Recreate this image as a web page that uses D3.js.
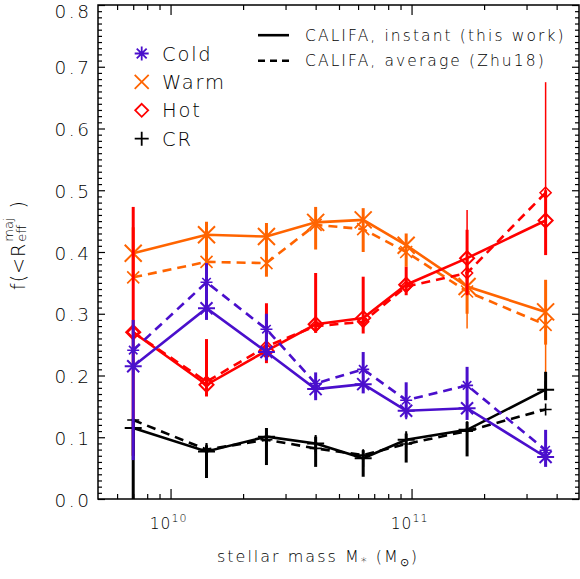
<!DOCTYPE html>
<html>
<head>
<meta charset="utf-8">
<script src="https://cdn.jsdelivr.net/npm/d3@7"></script>
<style>
  body { margin: 0; background: #fff; }
  text { font-family: "DejaVu Sans", sans-serif; font-weight: 200; fill: #000; }
</style>
</head>
<body>
<div id="chart"></div>
<script>
const FRAME_WIDTH = 580;
const FRAME_HEIGHT = 579;
const BOX = { left: 98, right: 579, top: 5, bottom: 499 };

// stellar mass bins (M_sun)
const masses = [7.0e9, 1.41e10, 2.5e10, 4.0e10, 6.3e10, 9.5e10, 1.7e11, 3.6e11];

// instant (this work) -- solid
const coldInst = [0.215, 0.309, 0.238, 0.178, 0.186, 0.143, 0.147, 0.068];
const coldLo   = [0.063, 0.290, 0.225, 0.160, 0.171, 0.132, 0.128, 0.052];
const coldHi   = [0.290, 0.382, 0.300, 0.205, 0.238, 0.189, 0.214, 0.112];
const warmInst = [0.398, 0.428, 0.425, 0.448, 0.452, 0.411, 0.344, 0.303];
const warmLo   = [0.360, 0.382, 0.360, 0.404, 0.400, 0.376, 0.300, 0.250];
const warmHi   = [0.440, 0.449, 0.447, 0.473, 0.471, 0.430, 0.390, 0.355];
const hotInst  = [0.270, 0.185, 0.240, 0.283, 0.293, 0.347, 0.390, 0.451];
const hotLo    = [0.070, 0.166, 0.220, 0.269, 0.268, 0.330, 0.330, 0.395];
const hotHi    = [0.473, 0.259, 0.317, 0.366, 0.360, 0.376, 0.436, 0.500];
const crInst   = [0.115, 0.077, 0.101, 0.090, 0.066, 0.096, 0.112, 0.177];
const crLo     = [-0.10, 0.034, 0.055, 0.052, 0.036, 0.059, 0.069, 0.160];
const crHi     = [0.130, 0.087, 0.115, 0.101, 0.079, 0.106, 0.125, 0.206];

// average (Zhu18) -- dashed
const coldAvg = [0.241, 0.351, 0.275, 0.187, 0.210, 0.160, 0.184, 0.079];
const warmAvg = [0.359, 0.384, 0.382, 0.444, 0.437, 0.400, 0.336, 0.282];
const warmAvgLo = [null, null, null, null, null, null, 0.276, 0.177];
const warmAvgHi = [null, null, null, null, null, null, 0.360, 0.300];
const hotAvg  = [0.270, 0.190, 0.247, 0.280, 0.287, 0.344, 0.366, 0.496];
const hotAvgLo = [null, null, null, null, null, null, 0.340, 0.430];
const hotAvgHi = [null, null, null, null, null, null, 0.468, 0.675];
const crAvg   = [0.128, 0.080, 0.096, 0.082, 0.071, 0.089, 0.110, 0.145];

const yTicks = [0.0, 0.1, 0.2, 0.3, 0.4, 0.5, 0.6, 0.7, 0.8];
const xMajor = [1e10, 1e11];
const xMinor = [6e9, 7e9, 8e9, 9e9, 2e10, 3e10, 4e10, 5e10, 6e10, 7e10, 8e10, 9e10, 2e11, 3e11, 4e11];

const COLD = "#4a0fcc", WARM = "#ff6400", HOT = "#ff0000", CR = "#000000";

let svg = d3.select("#chart").append("svg")
  .attr("width", FRAME_WIDTH)
  .attr("height", FRAME_HEIGHT);

let x = d3.scaleLog().domain([5e9, 5e11]).range([BOX.left, 580]);
let y = d3.scaleLinear().domain([0, 0.8]).range([BOX.bottom, BOX.top]);

svg.append("clipPath").attr("id", "clip")
  .append("rect")
  .attr("x", BOX.left).attr("y", BOX.top)
  .attr("width", BOX.right - BOX.left).attr("height", BOX.bottom - BOX.top);

// axes (ticks inward on all four sides)
function tickAxis(axis, transform, size, values) {
  let g = svg.append("g")
    .attr("transform", transform)
    .call(axis.tickValues(values).tickSize(-size).tickFormat(""));
  g.select(".domain").remove();
  g.selectAll("line").attr("stroke", "#000").attr("stroke-width", 1.2);
}
let yMinor = d3.range(0, 81).map(d => d / 100).filter(d => Math.round(d * 100) % 10 != 0);
tickAxis(d3.axisLeft(y), "translate(" + BOX.left + ",0)", 7, yTicks);
tickAxis(d3.axisLeft(y), "translate(" + BOX.left + ",0)", 4, yMinor);
tickAxis(d3.axisRight(y), "translate(" + BOX.right + ",0)", 7, yTicks);
tickAxis(d3.axisRight(y), "translate(" + BOX.right + ",0)", 4, yMinor);
tickAxis(d3.axisBottom(x), "translate(0," + BOX.bottom + ")", 10, xMajor);
tickAxis(d3.axisBottom(x), "translate(0," + BOX.bottom + ")", 5, xMinor);
tickAxis(d3.axisTop(x), "translate(0," + BOX.top + ")", 10, xMajor);
tickAxis(d3.axisTop(x), "translate(0," + BOX.top + ")", 5, xMinor);

svg.append("rect")
  .attr("x", BOX.left).attr("y", BOX.top)
  .attr("width", BOX.right - BOX.left).attr("height", BOX.bottom - BOX.top)
  .attr("fill", "none").attr("stroke", "#000").attr("stroke-width", 1.5);

// y tick labels
svg.selectAll(".ylab")
  .data(yTicks)
  .enter()
  .append("text")
  .attr("x", 91.5)
  .attr("y", d => Math.max(y(d) + 7.5, 17.5))
  .attr("text-anchor", "end")
  .style("font-size", "18.5px")
  .style("letter-spacing", "2.5px")
  .text(d => d.toFixed(1));

// x tick labels 10^10, 10^11
xMajor.forEach(function(v) {
  let t = svg.append("text")
    .attr("x", x(v) - 2)
    .attr("y", 529)
    .attr("text-anchor", "middle")
    .style("font-size", "15.5px")
    .style("letter-spacing", "1px");
  t.append("tspan").text("10");
  t.append("tspan").attr("dy", -7).style("font-size", "11px").text(Math.round(Math.log10(v)));
});

// x title
let xt = svg.append("text")
  .attr("x", 318).attr("y", 562)
  .attr("text-anchor", "middle")
  .style("font-size", "16px")
  .style("letter-spacing", "2px");
xt.append("tspan").text("stellar mass M");
xt.append("tspan").attr("dy", 4).style("font-size", "12px").text("*");
xt.append("tspan").attr("dy", -4).text(" (M");
xt.append("tspan").attr("dy", 4).style("font-size", "11px").text("\u2299");
xt.append("tspan").attr("dy", -4).text(")");

// y title
let yt = svg.append("g").attr("transform", "translate(25,290) rotate(-90)");
let yt1 = yt.append("text").attr("x", 0).attr("y", 0).style("font-size", "19px")
  .style("letter-spacing", "1px").text("f(<R");
let w1 = yt1.node().getComputedTextLength();
let yt2 = yt.append("text").attr("x", w1 + 1).attr("y", -12).style("font-size", "13px").text("maj");
let yt3 = yt.append("text").attr("x", w1 + 1).attr("y", 1).style("font-size", "13px").text("eff");
let w2 = Math.max(yt2.node().getComputedTextLength(), yt3.node().getComputedTextLength());
yt.append("text").attr("x", w1 + w2 + 10).attr("y", 0).style("font-size", "19px").text(")");

// markers
function markerPath(type, r) {
  let p = d3.path();
  if (type == "asterisk") {
    let d = r * Math.SQRT1_2;
    p.moveTo(-r, 0); p.lineTo(r, 0);
    p.moveTo(0, -r); p.lineTo(0, r);
    p.moveTo(-d, -d); p.lineTo(d, d);
    p.moveTo(-d, d); p.lineTo(d, -d);
  } else if (type == "cross") {
    p.moveTo(-r, -r); p.lineTo(r, r);
    p.moveTo(-r, r); p.lineTo(r, -r);
  } else if (type == "diamond") {
    p.moveTo(0, -r); p.lineTo(r, 0); p.lineTo(0, r); p.lineTo(-r, 0); p.closePath();
  } else {
    p.moveTo(-r, 0); p.lineTo(r, 0);
    p.moveTo(0, -r); p.lineTo(0, r);
  }
  return p.toString();
}

let plot = svg.append("g").attr("clip-path", "url(#clip)");

function drawSeries(vals, lo, hi, color, marker, dashed) {
  let g = plot.append("g");
  let idx = d3.range(vals.length);
  // error bars
  g.selectAll("line.err")
    .data(idx.filter(i => lo && lo[i] != null))
    .enter()
    .append("line")
    .attr("x1", i => x(masses[i])).attr("x2", i => x(masses[i]))
    .attr("y1", i => y(lo[i])).attr("y2", i => y(hi[i]))
    .attr("stroke", color)
    .attr("stroke-width", dashed ? 1.5 : 3);
  // connecting line
  g.append("path")
    .datum(idx)
    .attr("d", d3.line().x(i => x(masses[i])).y(i => y(vals[i])))
    .attr("fill", "none")
    .attr("stroke", color)
    .attr("stroke-width", 2.6)
    .attr("stroke-dasharray", dashed ? "9,6" : null);
  // symbols
  let r = marker == "diamond" ? (dashed ? 5.5 : 7) : (dashed ? 6 : 8.5);
  g.selectAll("path.sym")
    .data(idx)
    .enter()
    .append("path")
    .attr("transform", i => "translate(" + x(masses[i]) + "," + y(vals[i]) + ")")
    .attr("d", markerPath(marker, r))
    .attr("fill", "none")
    .attr("stroke", color)
    .attr("stroke-width", dashed ? 1.6 : 2);
}

drawSeries(warmAvg, warmAvgLo, warmAvgHi, WARM, "cross", true);
drawSeries(warmInst, warmLo, warmHi, WARM, "cross", false);
drawSeries(hotAvg, hotAvgLo, hotAvgHi, HOT, "diamond", true);
drawSeries(hotInst, hotLo, hotHi, HOT, "diamond", false);
drawSeries(crAvg, null, null, CR, "plus", true);
drawSeries(crInst, crLo, crHi, CR, "plus", false);
drawSeries(coldAvg, null, null, COLD, "asterisk", true);
drawSeries(coldInst, coldLo, coldHi, COLD, "asterisk", false);

// legend: components
const legendNames = ["Cold", "Warm", "Hot", "CR"];
const legendColors = [COLD, WARM, HOT, CR];
const legendMarkers = ["asterisk", "cross", "diamond", "plus"];
legendNames.forEach(function(name, i) {
  let by = 60.5 + i * 28.4;
  svg.append("path")
    .attr("transform", "translate(141.7," + (by - 7) + ")")
    .attr("d", markerPath(legendMarkers[i], i == 2 ? 6.5 : 7))
    .attr("fill", "none")
    .attr("stroke", legendColors[i])
    .attr("stroke-width", 1.8);
  svg.append("text")
    .attr("x", 162).attr("y", by)
    .style("font-size", "19.5px")
    .style("letter-spacing", "1.8px")
    .text(name);
});

// legend: line styles
const styleNames = ["CALIFA, instant (this work)", "CALIFA, average (Zhu18)"];
styleNames.forEach(function(name, i) {
  let by = 40.7 + i * 25.5;
  svg.append("line")
    .attr("x1", 258).attr("x2", 289)
    .attr("y1", by - 5.5).attr("y2", by - 5.5)
    .attr("stroke", "#000").attr("stroke-width", 2.6)
    .attr("stroke-dasharray", i == 1 ? "7,5" : null);
  svg.append("text")
    .attr("x", 305).attr("y", by)
    .style("font-size", "15.5px")
    .style("letter-spacing", "2.1px")
    .text(name);
});
</script>
</body>
</html>
